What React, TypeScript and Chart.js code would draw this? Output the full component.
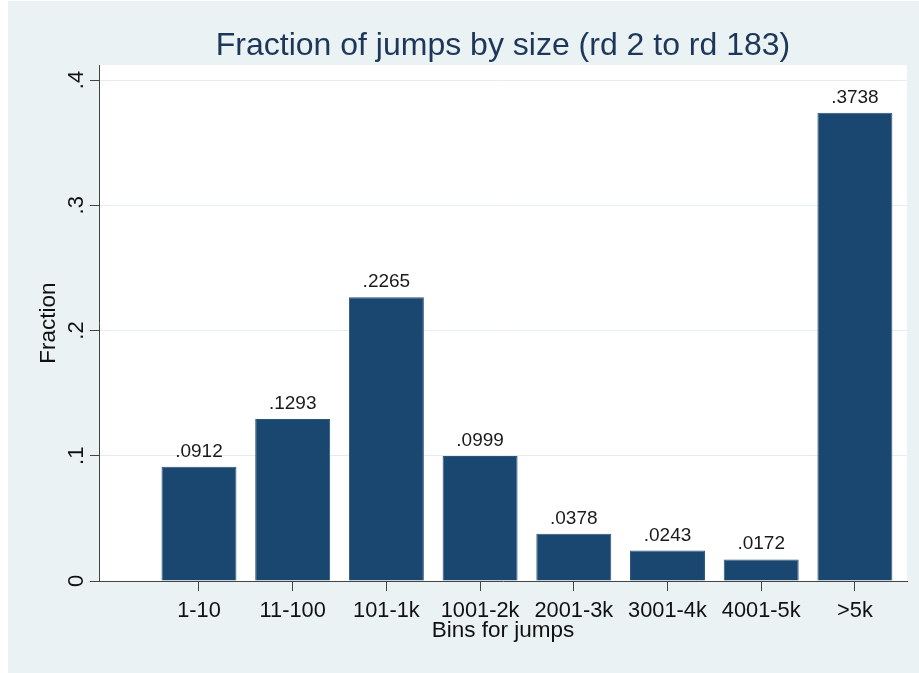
import React, { useEffect, useRef } from "react";
import { Chart, registerables } from "chart.js";

Chart.register(...registerables);

const categories = ["1-10", "11-100", "101-1k", "1001-2k", "2001-3k", "3001-4k", "4001-5k", ">5k"];
const fractions = [0.0912, 0.1293, 0.2265, 0.0999, 0.0378, 0.0243, 0.0172, 0.3738];
const yTicks = [0, 0.1, 0.2, 0.3, 0.4];
const titleText = "Fraction of jumps by size (rd 2 to rd 183)";
const xTitle = "Bins for jumps";
const yTitle = "Fraction";

const FONT = "'Liberation Sans', Arial, sans-serif";
const BG = "#eaf2f3";

const fmt = (v: number) => (v === 0 ? "0" : v.toFixed(4).replace(/^0/, ""));
const fmtTick = (v: number) => (v === 0 ? "0" : v.toFixed(1).replace(/^0/, ""));

const bgPlugin = {
  id: "bgPlugin",
  beforeDraw(chart: any) {
    const { ctx, chartArea, width, height } = chart;
    ctx.save();
    ctx.fillStyle = BG;
    ctx.fillRect(0, 0, width, height);
    ctx.fillStyle = "#ffffff";
    ctx.fillRect(chartArea.left, chartArea.top, chartArea.right - chartArea.left, chartArea.bottom - chartArea.top);
    ctx.restore();
  },
};

const plotTitle = {
  id: "plotTitle",
  afterDraw(chart: any) {
    const { ctx, chartArea } = chart;
    ctx.save();
    ctx.font = `32px ${FONT}`;
    ctx.fillStyle = "#1c375a";
    ctx.textAlign = "center";
    ctx.textBaseline = "alphabetic";
    ctx.fillText(titleText, (chartArea.left + chartArea.right) / 2, 54);
    ctx.restore();
  },
};

const valueLabels = {
  id: "valueLabels",
  afterDatasetsDraw(chart: any) {
    const { ctx } = chart;
    const meta = chart.getDatasetMeta(0);
    ctx.save();
    ctx.font = `19px ${FONT}`;
    ctx.fillStyle = "#1a1a1a";
    ctx.textAlign = "center";
    ctx.textBaseline = "alphabetic";
    meta.data.forEach((bar: any, i: number) => {
      ctx.fillText(fmt(fractions[i]), bar.x, bar.y - 10);
    });
    ctx.restore();
  },
};

export default function App() {
  const ref = useRef<HTMLCanvasElement>(null);
  useEffect(() => {
    if (!ref.current) return;
    const chart = new Chart(ref.current, {
      type: "bar",
      data: {
        datasets: [
          {
            data: fractions.map((v, i) => ({ x: i + 1, y: v })),
            backgroundColor: "#1a476f",
            borderColor: "#2c5478",
            borderWidth: 1,
            barPercentage: 0.8,
            categoryPercentage: 1,
          },
        ],
      },
      options: {
        responsive: false,
        animation: false,
        layout: { padding: { left: 0, right: 12, top: 64, bottom: 0 } },
        plugins: {
          legend: { display: false },
          tooltip: { enabled: false },
          title: { display: false },
        },
        scales: {
          x: {
            type: "linear",
            offset: false,
            min: -0.067,
            max: 8.556,
            afterBuildTicks: (scale: any) => {
              scale.ticks = categories.map((_, i) => ({ value: i + 1 }));
            },
            afterFit: (scale: any) => {
              scale.height = 92;
            },
            ticks: {
              autoSkip: false,
              maxRotation: 0,
              minRotation: 0,
              padding: 7,
              color: "#111",
              font: { family: FONT, size: 21.8 },
              callback: (v: any) => categories[Number(v) - 1] ?? "",
            },
            grid: {
              display: true,
              offset: false,
              drawOnChartArea: false,
              drawTicks: true,
              tickLength: 10,
              tickColor: "#444",
            },
            border: { display: true, color: "#444", width: 1 },
            title: {
              display: true,
              text: xTitle,
              color: "#111",
              font: { family: FONT, size: 22.5 },
              padding: { top: 0, bottom: 29 },
            },
          },
          y: {
            type: "linear",
            min: 0,
            max: 0.412,
            afterBuildTicks: (scale: any) => {
              scale.ticks = yTicks.map((v) => ({ value: v }));
            },
            afterFit: (scale: any) => {
              scale.width = 91;
            },
            ticks: {
              minRotation: 90,
              maxRotation: 90,
              crossAlign: "center",
              padding: 4,
              color: "#111",
              font: { family: FONT, size: 22 },
              callback: (v: any) => fmtTick(Number(v)),
            },
            grid: {
              display: true,
              drawOnChartArea: true,
              color: "#e3edf0",
              lineWidth: 1,
              drawTicks: true,
              tickLength: 9,
              tickColor: "#444",
            },
            border: { display: true, color: "#444", width: 1 },
            title: {
              display: true,
              text: yTitle,
              color: "#111",
              font: { family: FONT, size: 22.5 },
              padding: { top: 27, bottom: 0 },
            },
          },
        },
      } as any,
      plugins: [bgPlugin, valueLabels, plotTitle],
    });
    return () => chart.destroy();
  }, []);

  return (
    <div style={{ position: "absolute", left: 8, top: 1, width: 911, height: 672 }}>
      <canvas ref={ref} width={911} height={672} style={{ display: "block" }} />
    </div>
  );
}
